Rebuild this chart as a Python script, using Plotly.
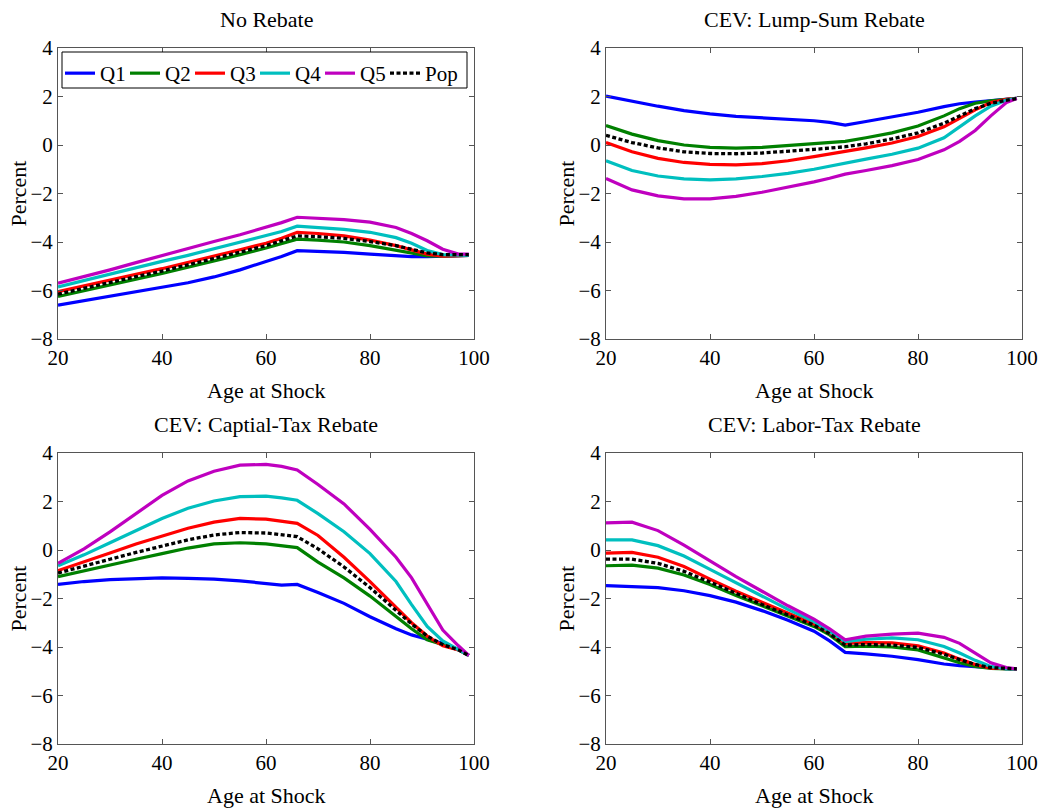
import plotly.graph_objects as go

ages = [20, 25, 30, 35, 40, 45, 50, 55, 60, 63, 66, 70, 75, 80, 85, 88, 91, 94, 97, 99]
series_names = ["Q1", "Q2", "Q3", "Q4", "Q5", "Pop"]
panel_titles = ["No Rebate", "CEV: Lump-Sum Rebate", "CEV: Captial-Tax Rebate", "CEV: Labor-Tax Rebate"]
y_ticks = [-8, -6, -4, -2, 0, 2, 4]
x_ticks = [20, 40, 60, 80, 100]

# Panel 1: No Rebate
nr_q1 = [-6.6, -6.42, -6.22, -6.05, -5.88, -5.68, -5.44, -5.15, -4.8, -4.6, -4.36, -4.38, -4.43, -4.5, -4.57, -4.6, -4.6, -4.58, -4.55, -4.55]
nr_q2 = [-6.25, -6.0, -5.77, -5.53, -5.3, -5.05, -4.78, -4.52, -4.25, -4.08, -3.88, -3.92, -4.0, -4.15, -4.35, -4.48, -4.57, -4.58, -4.55, -4.55]
nr_q3 = [-6.05, -5.8, -5.57, -5.33, -5.1, -4.85, -4.58, -4.32, -4.05, -3.85, -3.6, -3.65, -3.75, -3.92, -4.15, -4.32, -4.5, -4.58, -4.55, -4.55]
nr_q4 = [-5.85, -5.58, -5.33, -5.07, -4.8, -4.55, -4.28, -4.02, -3.75, -3.57, -3.35, -3.4, -3.48, -3.6, -3.82, -4.05, -4.35, -4.52, -4.55, -4.55]
nr_q5 = [-5.7, -5.43, -5.15, -4.85, -4.55, -4.27, -3.98, -3.7, -3.4, -3.2, -2.98, -3.03, -3.08, -3.18, -3.4, -3.65, -3.95, -4.3, -4.5, -4.5]
nr_pop = [-6.15, -5.9, -5.67, -5.43, -5.2, -4.95, -4.68, -4.42, -4.15, -3.96, -3.75, -3.78, -3.85, -3.98, -4.15, -4.3, -4.45, -4.52, -4.52, -4.52]

# Panel 2: Lump-Sum Rebate
ls_q1 = [2.02, 1.8, 1.6, 1.42, 1.28, 1.18, 1.12, 1.06, 1.0, 0.93, 0.82, 0.97, 1.15, 1.35, 1.58, 1.7, 1.77, 1.82, 1.87, 1.92]
ls_q2 = [0.8, 0.45, 0.18, 0.0, -0.1, -0.13, -0.1, -0.03, 0.05, 0.1, 0.15, 0.3, 0.5, 0.78, 1.2, 1.5, 1.72, 1.82, 1.87, 1.92]
ls_q3 = [0.1, -0.28, -0.55, -0.72, -0.8, -0.82, -0.77, -0.65, -0.48, -0.38, -0.28, -0.12, 0.08, 0.35, 0.75, 1.1, 1.45, 1.75, 1.88, 1.92]
ls_q4 = [-0.65, -1.05, -1.28, -1.4, -1.44, -1.4, -1.3, -1.17, -1.0, -0.87, -0.72, -0.58, -0.38, -0.13, 0.3, 0.75, 1.2, 1.6, 1.85, 1.92]
ls_q5 = [-1.38, -1.85, -2.1, -2.22, -2.22, -2.12, -1.95, -1.75, -1.52, -1.37, -1.2, -1.05, -0.85, -0.6, -0.2, 0.15, 0.6, 1.2, 1.75, 1.92]
ls_pop = [0.4, 0.1, -0.12, -0.28, -0.35, -0.36, -0.33, -0.27, -0.18, -0.13, -0.07, 0.05, 0.25, 0.5, 0.9, 1.2, 1.5, 1.72, 1.85, 1.92]

# Panel 3: Capital-Tax Rebate
ct_q1 = [-1.42, -1.3, -1.22, -1.17, -1.15, -1.17, -1.2, -1.27, -1.37, -1.45, -1.42, -1.75, -2.2, -2.75, -3.25, -3.5, -3.68, -3.85, -4.1, -4.35]
ct_q2 = [-1.1, -0.85, -0.6, -0.38, -0.15, 0.08, 0.25, 0.3, 0.25, 0.18, 0.1, -0.5, -1.15, -1.9, -2.75, -3.25, -3.7, -3.9, -4.1, -4.35]
ct_q3 = [-0.85, -0.5, -0.12, 0.25, 0.58, 0.9, 1.15, 1.3, 1.27, 1.2, 1.1, 0.6, -0.3, -1.3, -2.35, -3.0, -3.55, -3.95, -4.12, -4.35]
ct_q4 = [-0.65, -0.2, 0.3, 0.8, 1.3, 1.72, 2.02, 2.2, 2.22, 2.15, 2.05, 1.5, 0.75, -0.15, -1.3, -2.25, -3.15, -3.75, -4.1, -4.35]
ct_q5 = [-0.55, 0.05, 0.75, 1.5, 2.25, 2.85, 3.25, 3.5, 3.53, 3.45, 3.3, 2.7, 1.9, 0.85, -0.3, -1.15, -2.25, -3.3, -3.95, -4.35]
ct_pop = [-0.95, -0.65, -0.38, -0.1, 0.15, 0.42, 0.62, 0.72, 0.7, 0.63, 0.55, 0.05, -0.7, -1.55, -2.5, -3.05, -3.55, -3.9, -4.12, -4.35]

# Panel 4: Labor-Tax Rebate
lt_q1 = [-1.47, -1.5, -1.55, -1.68, -1.88, -2.15, -2.5, -2.9, -3.35, -3.75, -4.22, -4.28, -4.38, -4.52, -4.7, -4.77, -4.82, -4.86, -4.89, -4.9]
lt_q2 = [-0.65, -0.62, -0.75, -1.03, -1.42, -1.88, -2.3, -2.72, -3.15, -3.5, -3.98, -3.97, -4.0, -4.12, -4.45, -4.65, -4.8, -4.88, -4.9, -4.9]
lt_q3 = [-0.13, -0.1, -0.3, -0.68, -1.2, -1.7, -2.15, -2.6, -3.05, -3.4, -3.85, -3.82, -3.83, -3.95, -4.25, -4.5, -4.72, -4.87, -4.9, -4.9]
lt_q4 = [0.42, 0.42, 0.18, -0.25, -0.8, -1.35, -1.9, -2.45, -2.95, -3.35, -3.78, -3.68, -3.62, -3.7, -3.98, -4.25, -4.55, -4.8, -4.9, -4.9]
lt_q5 = [1.12, 1.15, 0.8, 0.2, -0.45, -1.1, -1.7, -2.3, -2.85, -3.25, -3.7, -3.55, -3.47, -3.43, -3.6, -3.85, -4.25, -4.65, -4.85, -4.9]
lt_pop = [-0.38, -0.38, -0.55, -0.88, -1.32, -1.8, -2.25, -2.68, -3.1, -3.45, -3.92, -3.9, -3.92, -4.02, -4.3, -4.52, -4.72, -4.85, -4.9, -4.9]

panels = [
    [nr_q1, nr_q2, nr_q3, nr_q4, nr_q5, nr_pop],
    [ls_q1, ls_q2, ls_q3, ls_q4, ls_q5, ls_pop],
    [ct_q1, ct_q2, ct_q3, ct_q4, ct_q5, ct_pop],
    [lt_q1, lt_q2, lt_q3, lt_q4, lt_q5, lt_pop],
]

colors = ["#0000ff", "#008000", "#ff0000", "#00bfbf", "#bf00bf", "#000000"]

W, H = 1043, 811
# pixel boxes of the four axes (left, right, top, bottom)
boxes = [(58, 474, 48, 339), (606, 1022, 48, 339), (58, 474, 453, 744), (606, 1022, 453, 744)]
legend_box = (62, 467, 52, 88)

FONT = "Liberation Serif, Times New Roman, serif"
fig = go.Figure()
layout = dict(
    width=W, height=H, margin=dict(l=0, r=0, t=0, b=0, pad=0, autoexpand=False),
    paper_bgcolor="white", plot_bgcolor="white",
    font=dict(family=FONT, size=21, color="black"),
    showlegend=True,
)
annotations = []
for i, (panel, title) in enumerate(zip(panels, panel_titles)):
    k = "" if i == 0 else str(i + 1)
    xa, ya = "x" + k, "y" + k
    l, r, t, b = boxes[i]
    for j, (name, vals) in enumerate(zip(series_names, panel)):
        is_pop = name == "Pop"
        fig.add_trace(go.Scatter(
            x=ages, y=vals, mode="lines", name=name,
            xaxis=xa, yaxis=ya,
            line=dict(color=colors[j], width=3.3 if is_pop else 3.2,
                      dash="4px,2.5px" if is_pop else "solid"),
            showlegend=(i == 0),
        ))
    axis_common = dict(
        showline=True, linecolor="#555", linewidth=1, mirror="ticks",
        ticks="inside", ticklen=5, tickcolor="#555",
        showgrid=False, zeroline=False, automargin=False,
        tickfont=dict(family=FONT, size=21, color="black"),
    )
    layout["xaxis" + k] = dict(domain=[l / W, r / W], range=[20, 100], tickvals=x_ticks,
                               anchor=ya, **axis_common)
    layout["yaxis" + k] = dict(domain=[1 - b / H, 1 - t / H], range=[-8, 4], tickvals=y_ticks,
                               anchor=xa, **axis_common)
    cx = (l + r) / 2
    annotations.append(dict(text=title, x=cx / W, y=1 - (20 if i < 2 else 425) / H,
                            xref="paper", yref="paper", showarrow=False,
                            xanchor="center", yanchor="middle",
                            font=dict(family=FONT, size=22)))
    annotations.append(dict(text="Age at Shock", x=cx / W, y=1 - (b + 51) / H,
                            xref="paper", yref="paper", showarrow=False,
                            xanchor="center", yanchor="middle",
                            font=dict(family=FONT, size=22)))
    annotations.append(dict(text="Percent", x=(l - 40) / W, y=1 - ((t + b) / 2) / H,
                            xref="paper", yref="paper", showarrow=False, textangle=-90,
                            xanchor="center", yanchor="middle",
                            font=dict(family=FONT, size=22)))

# invisible spacer entry so the last legend label is not clipped by the legend box
fig.add_trace(go.Scatter(x=[None], y=[None], mode="lines", name=" ",
                         line=dict(color="rgba(0,0,0,0)", width=0),
                         showlegend=True, hoverinfo="skip"))

layout["annotations"] = annotations
lx0, lx1, ly0, ly1 = legend_box
layout["shapes"] = [dict(type="rect", xref="paper", yref="paper",
                         x0=lx0 / W, x1=lx1 / W, y0=1 - ly1 / H, y1=1 - ly0 / H,
                         line=dict(color="black", width=1), fillcolor="white", layer="above")]
layout["legend"] = dict(
    orientation="h", x=(lx0 - 2) / W, y=1 - (ly0 + 1) / H, xanchor="left", yanchor="top",
    borderwidth=0, bgcolor="rgba(0,0,0,0)",
    font=dict(family=FONT, size=21), itemwidth=30, tracegroupgap=0,
    entrywidth=20, entrywidthmode="pixels",
)
fig.update_layout(**layout)
fig.write_html("out.html", config={"displayModeBar": False},
               post_script="document.body.style.margin='0';document.body.style.padding='0';")
